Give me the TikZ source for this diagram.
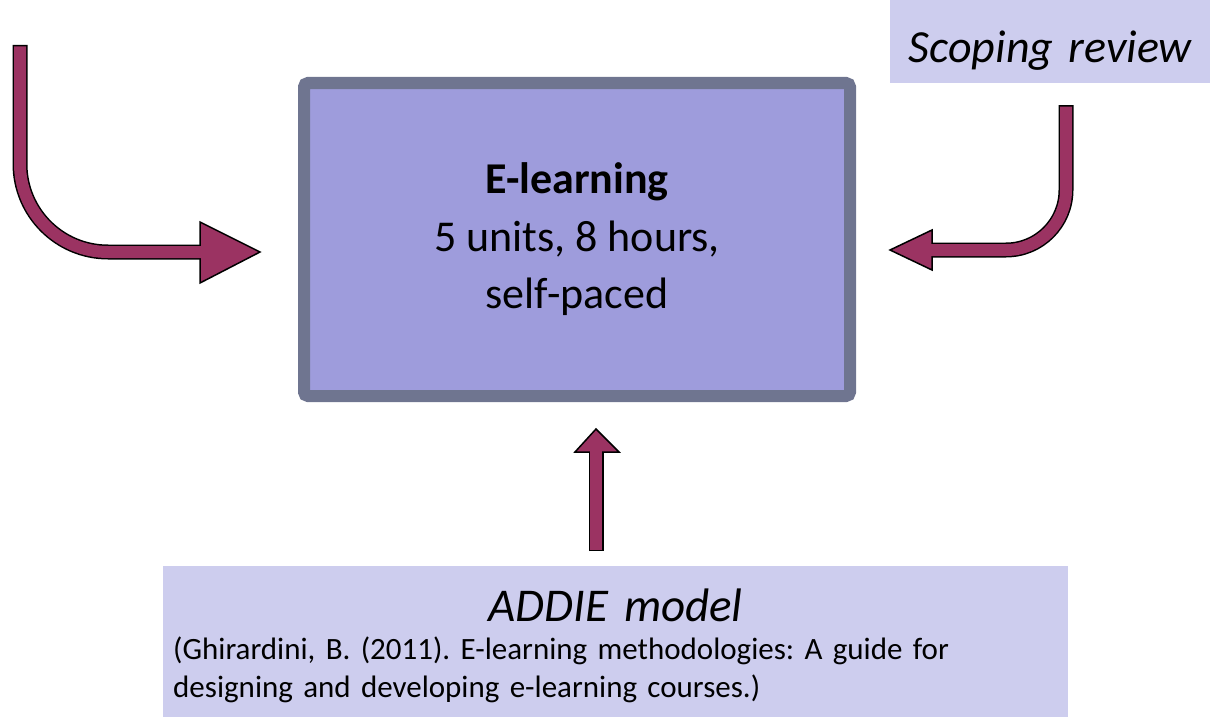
\documentclass[tikz,border=0pt]{standalone}
\usepackage{fontspec}
\setmainfont{Carlito}
\frenchspacing
\definecolor{arrow}{HTML}{9B3362}
\definecolor{box}{HTML}{9E9CDC}
\definecolor{boxline}{HTML}{6F7590}
\definecolor{pale}{HTML}{CDCDEE}

\tikzset{
    shaftout/.style={draw=black, line width=15pt},
    shaftin/.style={draw=arrow, line width=12pt, shorten <=1.5pt, shorten >=-3pt},
    head/.style={draw=black, fill=arrow, line width=1.5pt, line join=miter}
}

\begin{document}
\begin{tikzpicture}[x=1pt, y=-1pt]
    \useasboundingbox (0,0) rectangle (1210,717);

    \node at (577,239.5) (elearn) [shape=rectangle, draw=boxline, line width=12pt, fill=box, rounded corners=4pt,
        minimum width=546pt, minimum height=313pt, align=center, font=\fontsize{44}{57.5}\selectfont]
        {\textbf{E-learning}\\5 units, 8 hours,\\self-paced};

    \node at (890,0) (scoping) [anchor=north west, fill=pale, inner sep=0pt, text width=320pt,
        text height=62pt, text depth=21pt, align=center, font=\fontsize{46}{50}\selectfont\itshape]
        {Scoping review};

    \node at (163,566) (addie) [anchor=north west, fill=pale, inner sep=0pt, text width=905pt,
        text height=55pt, text depth=96pt, align=center, font=\fontsize{47}{50}\selectfont\itshape]
        {ADDIE model};
    \node at (173,659) (ref) [anchor=base west, inner sep=0pt, text width=880pt, align=left,
        font=\fontsize{31}{38}\selectfont]
        {(Ghirardini, B. (2011). E-learning methodologies: A guide for\\designing and developing e-learning courses.)};

    % arrow from the left
    \coordinate (lstart) at (20,45);
    \coordinate (lhead) at (200,252);
    \coordinate (ltip) at (260,252);
    \draw[shaftout, rounded corners=88pt] (lstart) |- (lhead);
    \filldraw[head] (200,222) -- (ltip) -- (200,283) -- cycle;
    \draw[shaftin, rounded corners=88pt] (lstart) |- (lhead);

    % arrow from the scoping review
    \coordinate (rstart) at (1066,105);
    \coordinate (rhead) at (932,250);
    \coordinate (rtip) at (890,250);
    \draw[shaftout, rounded corners=60pt] (rstart) |- (rhead);
    \filldraw[head] (932,230) -- (rtip) -- (932,270) -- cycle;
    \draw[shaftin, rounded corners=60pt] (rstart) |- (rhead);

    % arrow from the ADDIE model
    \coordinate (ustart) at (596,551);
    \coordinate (uhead) at (596,452);
    \coordinate (utip) at (596,429);
    \draw[shaftout] (ustart) -- (uhead);
    \filldraw[head] (575,452) -- (utip) -- (619,452) -- cycle;
    \draw[shaftin] (ustart) -- (uhead);

\end{tikzpicture}
\end{document}
